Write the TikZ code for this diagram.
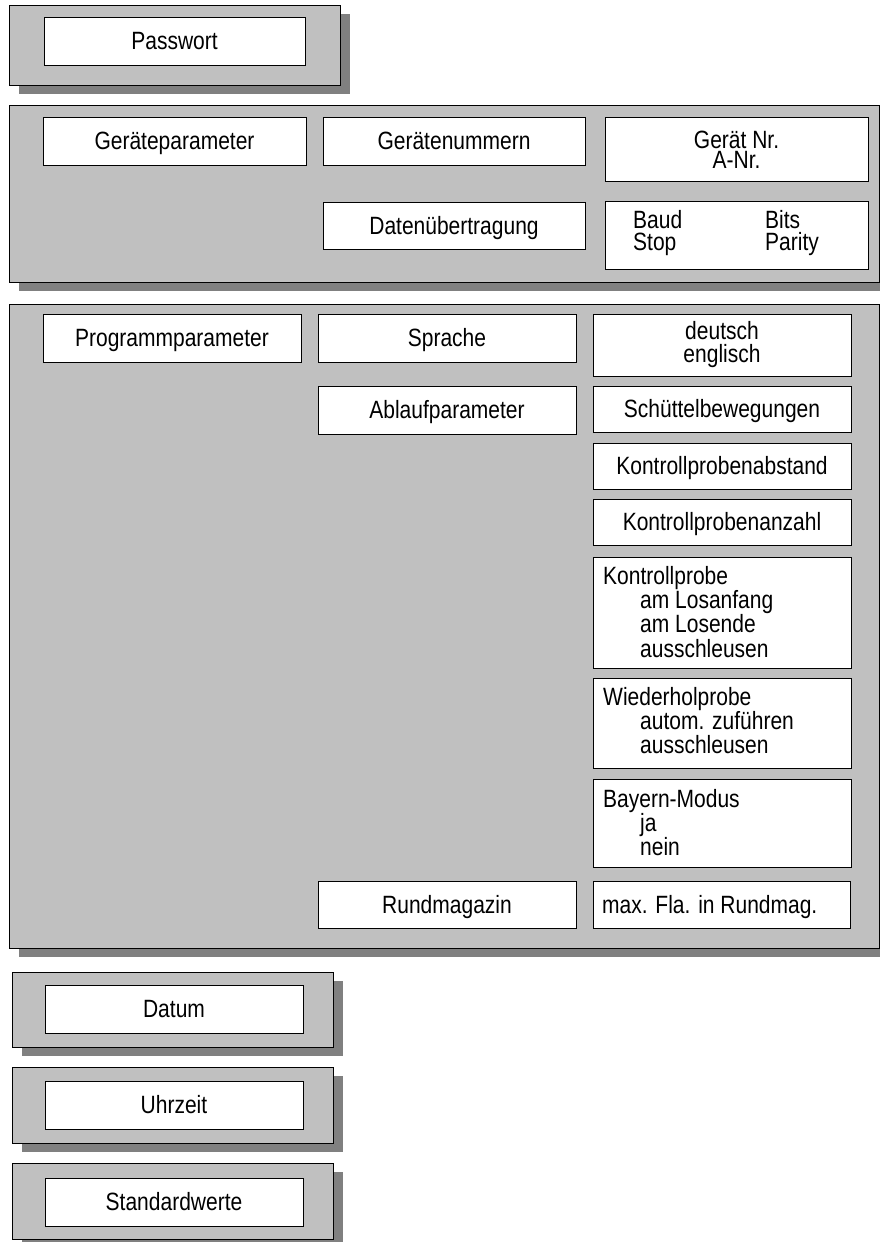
\documentclass[tikz,border=0pt]{standalone}
\usepackage{fontspec}
\setmainfont[FakeStretch=0.84]{Liberation Sans}
\definecolor{panelgray}{HTML}{C0C0C0}
\definecolor{shadowgray}{HTML}{808080}
\newcommand\fnt{\fontsize{25}{24}\selectfont}
\tikzset{
 panel/.style={draw=black, fill=panelgray, line width=1pt, inner sep=0pt},
 shadowfill/.style={fill=shadowgray, draw=none},
 wbox/.style={draw=black, fill=white, line width=0.8pt, inner sep=0pt, text height=17.9pt, text depth=0pt, font=\fnt},
 ltxt/.style={inner sep=0pt, anchor=base west, font=\fnt},
 ctxt/.style={inner sep=0pt, anchor=base, font=\fnt}
}
% panel with drop shadow
\newcommand\pnl[5]{%
 \fill[shadowfill] (#2+10,#3+9) rectangle (#4+10,#5+9);
 \node[panel, minimum width={(#4-#2)*1pt}, minimum height={(#5-#3)*1pt}] (#1) at ({(#2+#4)/2},{(#3+#5)/2}) {};}
% white box
\newcommand\wb[6]{%
 \node[wbox, minimum width={(#4-#2)*1pt}, minimum height={(#5-#3)*1pt}] (#1) at ({(#2+#4)/2},{(#3+#5)/2}) {#6};}
\begin{document}
\begin{tikzpicture}[x=1pt,y=-1pt]
\useasboundingbox (0,0) rectangle (880,1242);
\clip (0,0) rectangle (880,1242);
\fill[white] (0,0) rectangle (880,1242);

% Passwort
\pnl{pPass}{9}{5}{340}{85}
\wb{bPass}{44}{17}{305}{65}{Passwort}

% Geraeteparameter
\pnl{pGeraet}{9}{105}{879}{282}
\wb{bGeraetepar}{43}{117}{306}{165}{Geräteparameter}
\wb{bGeraetenum}{323}{117}{585}{165}{Gerätenummern}
\wb{bGeraetNr}{605}{117}{868}{181}{}
\node[ctxt] (tGeraetNr) at (736.5,148) {Gerät Nr.};
\node[ctxt] (tANr) at (736.5,168) {A-Nr.};
\wb{bDaten}{323}{202}{585}{249}{Datenübertragung}
\wb{bBaud}{605}{201}{868}{269}{}
\node[ltxt] (tBaud) at (633,228) {Baud};
\node[ltxt] (tStop) at (633,250) {Stop};
\node[ltxt] (tBits) at (765,228) {Bits};
\node[ltxt] (tParity) at (765,250) {Parity};

% Programmparameter
\pnl{pProg}{9}{304}{879}{948}
\wb{bProg}{43}{314}{301}{362}{Programmparameter}
\wb{bSprache}{318}{314}{576}{362}{Sprache}
\wb{bDeutsch}{593}{314}{851}{376}{}
\node[ctxt] (tDeutsch) at (722,339) {deutsch};
\node[ctxt] (tEnglisch) at (722,362) {englisch};
\wb{bAblauf}{318}{386}{576}{434}{Ablaufparameter}
\wb{bSchuettel}{593}{386}{851}{432}{Schüttelbewegungen}
\wb{bKAbstand}{593}{443}{851}{489}{Kontrollprobenabstand}
\wb{bKAnzahl}{593}{499}{851}{545}{Kontrollprobenanzahl}
\wb{bKProbe}{593}{557}{851}{668}{}
\node[ltxt] (tK1) at (603,584) {Kontrollprobe};
\node[ltxt] (tK2) at (640,608) {am Losanfang};
\node[ltxt] (tK3) at (640,632) {am Losende};
\node[ltxt] (tK4) at (640,657) {ausschleusen};
\wb{bWProbe}{593}{678}{851}{768}{}
\node[ltxt] (tW1) at (603,705) {Wiederholprobe};
\node[ltxt] (tW2) at (640,729) {autom. zuführen};
\node[ltxt] (tW3) at (640,753) {ausschleusen};
\wb{bBayern}{593}{779}{851}{867}{}
\node[ltxt] (tB1) at (603,807) {Bayern-Modus};
\node[ltxt] (tB2) at (640,831) {ja};
\node[ltxt] (tB3) at (640,855) {nein};
\wb{bRund}{318}{881}{576}{928}{Rundmagazin}
\wb{bMax}{593}{881}{850}{928}{}
\node[ltxt] (tMax) at (602,913) {max. Fla. in Rundmag.};

% Datum, Uhrzeit, Standardwerte
\pnl{pDatum}{12}{972}{333}{1047}
\wb{bDatum}{45}{985}{303}{1033}{Datum}
\pnl{pUhr}{12}{1067}{333}{1143}
\wb{bUhr}{45}{1081}{303}{1129}{Uhrzeit}
\pnl{pStd}{12}{1163}{333}{1239}
\wb{bStd}{45}{1178}{303}{1226}{Standardwerte}
\end{tikzpicture}
\end{document}
